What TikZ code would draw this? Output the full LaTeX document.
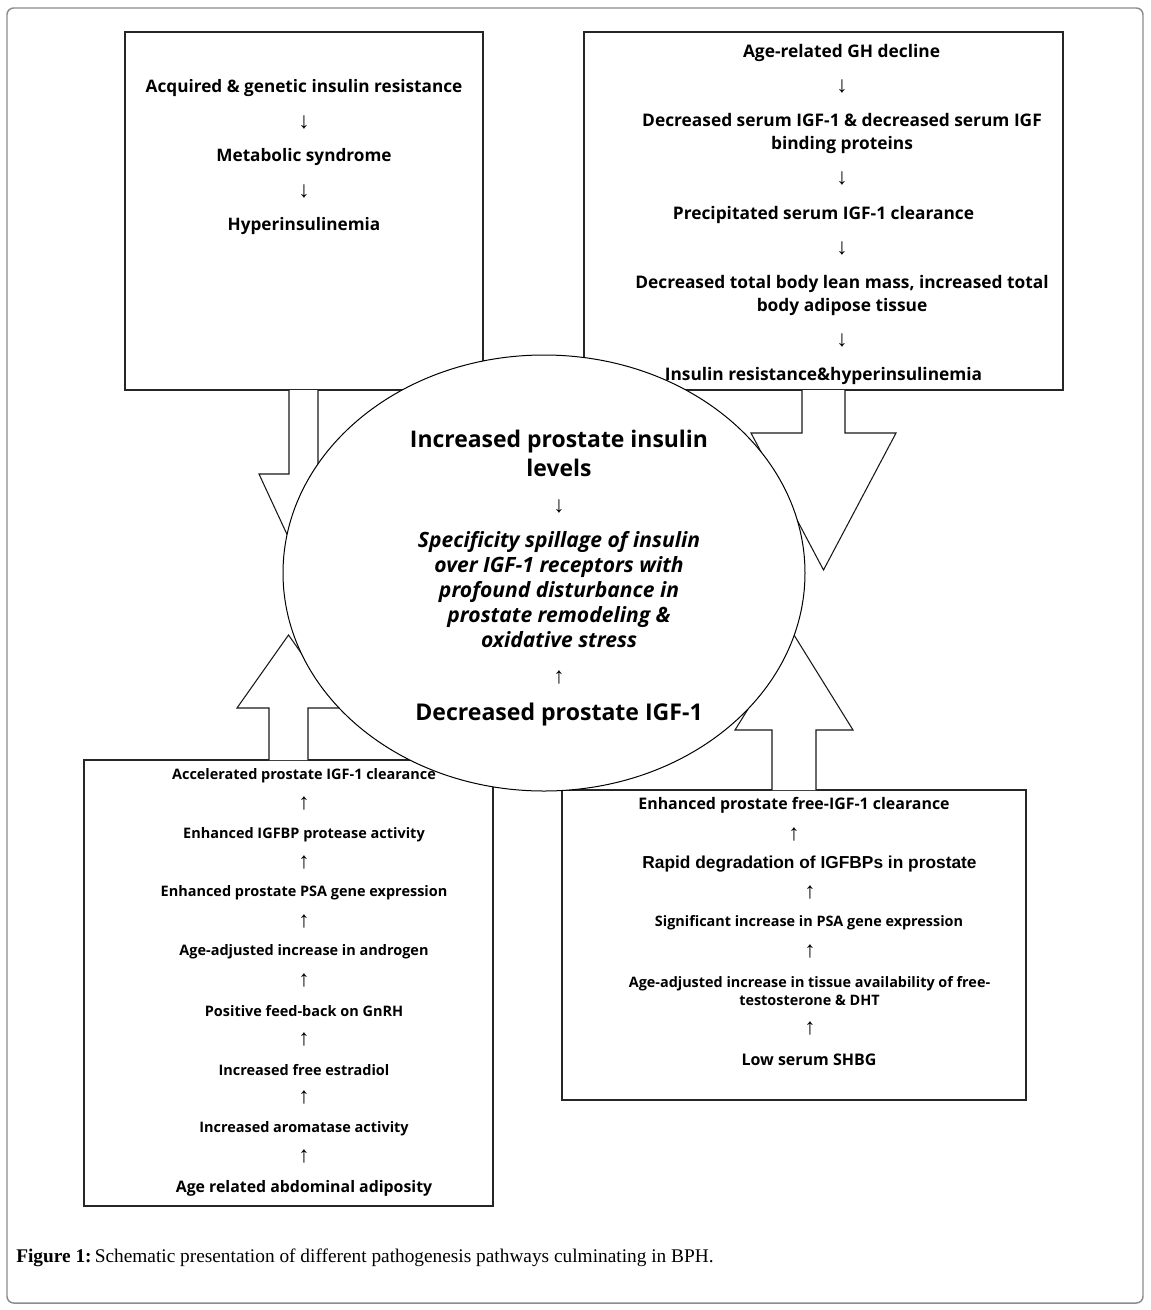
\documentclass[tikz,border=0pt]{standalone}
\usepackage{fontspec}
\setmainfont{Open Sans}
\newfontfamily\arialfont{Liberation Sans}
\newfontfamily\capfont{Liberation Serif}
\newcommand{\pxsize}[1]{\fontsize{#1}{#1}\selectfont}
\tikzset{
  frame/.style={draw=black!45, line width=1.1pt, rounded corners=5pt},
  boxstyle/.style={draw=black!85, fill=white, line width=0.9pt},
  blockarrow/.style={draw=black!90, fill=white, line width=0.8pt, line join=miter},
  ovalstyle/.style={draw=black, fill=white, line width=0.75pt},
  txt/.style={inner sep=0pt, align=center, font=\bfseries},
  btxt/.style={txt, yshift=-2pt},
  arr/.style={inner sep=0pt, font=\arialfont\pxsize{17}},
}
\begin{document}
\begin{tikzpicture}[x=0.75pt,y=-0.75pt]
\useasboundingbox (0,0) rectangle (1150,1310);
% outer frame
\draw[frame] (7,8) rectangle (1143,1303);

% boxes
\draw[boxstyle] (125,32) rectangle (483,390);
\draw[boxstyle] (584,32) rectangle (1063,390);
\draw[boxstyle] (84,760) rectangle (493,1206);
\draw[boxstyle] (562,790) rectangle (1026,1100);

% block arrows
\draw[blockarrow] (289,390) -- (289,474) -- (259,474) -- (303.5,570) -- (348,474) -- (318,474) -- (318,390);
\draw[blockarrow] (802,390) -- (802,433) -- (751,433) -- (823.5,570) -- (896,433) -- (845,433) -- (845,390);
\draw[blockarrow] (269,760) -- (269,708) -- (237,708) -- (288.5,635) -- (340,708) -- (308,708) -- (308,760);
\draw[blockarrow] (772,790) -- (772,730) -- (735,730) -- (794,635) -- (853,730) -- (816,730) -- (816,790);

% central oval
\draw[ovalstyle] (544,573) ellipse [x radius=195.75pt, y radius=163.5pt];

% top-left box text
\node[btxt, font=\bfseries\pxsize{12.9}] (tl1) at (304,85) {Acquired \& genetic insulin resistance};
\node[arr] (tla1) at (304,122) {↓};
\node[btxt, font=\bfseries\pxsize{12.9}] (tl2) at (304,154) {Metabolic syndrome};
\node[arr] (tla2) at (304,191) {↓};
\node[btxt, font=\bfseries\pxsize{12.9}] (tl3) at (304,223) {Hyperinsulinemia};

% top-right box text
\node[btxt, font=\bfseries\pxsize{13}] (tr1) at (841.5,50) {Age-related GH decline};
\node[arr] (tra1) at (842,86) {↓};
\node[btxt, font=\bfseries\fontsize{13}{17.3}\selectfont] (tr2) at (842,130.5) {Decreased serum IGF-1 \& decreased serum IGF\\binding proteins};
\node[arr] (tra2) at (842,178) {↓};
\node[btxt, font=\bfseries\pxsize{13}] (tr3) at (823.5,212) {Precipitated serum IGF-1 clearance};
\node[arr] (tra3) at (842,248) {↓};
\node[btxt, font=\bfseries\fontsize{13}{17.3}\selectfont] (tr4) at (842,292.5) {Decreased total body lean mass, increased total\\body adipose tissue};
\node[arr] (tra4) at (842,340) {↓};
\node[btxt, font=\bfseries\pxsize{13}] (tr5) at (823.5,373) {Insulin resistance\&hyperinsulinemia};

% oval text
\node[txt, font=\bfseries\fontsize{17.2}{21.8}\selectfont] (c1) at (559,453.5) {Increased prostate insulin\\levels};
\node[arr] (ca1) at (559,506) {↓};
\node[txt, font=\bfseries\itshape\fontsize{15.8}{18.9}\selectfont] (c2) at (559,589.5) {Specificity spillage of insulin\\over IGF-1 receptors with\\profound disturbance in\\prostate remodeling \&\\oxidative stress};
\node[arr] (ca2) at (559,677) {↑};
\node[btxt, font=\bfseries\pxsize{17.3}] (c3) at (559,712) {Decreased prostate IGF-1};

% bottom-left box text
\node[btxt, font=\bfseries\pxsize{10.85}] (bl1) at (304,773) {Accelerated prostate IGF-1 clearance};
\node[arr] (bla1) at (304,803) {↑};
\node[btxt, font=\bfseries\pxsize{10.85}] (bl2) at (304,832) {Enhanced IGFBP protease activity};
\node[arr] (bla2) at (304,862) {↑};
\node[btxt, font=\bfseries\pxsize{10.85}] (bl3) at (304,890) {Enhanced prostate PSA gene expression};
\node[arr] (bla3) at (304,921) {↑};
\node[btxt, font=\bfseries\pxsize{10.85}] (bl4) at (304,949) {Age-adjusted increase in androgen};
\node[arr] (bla4) at (304,980) {↑};
\node[btxt, font=\bfseries\pxsize{10.85}] (bl5) at (304,1008) {Positive feed-back on GnRH};
\node[arr] (bla5) at (304,1039) {↑};
\node[btxt, font=\bfseries\pxsize{10.85}] (bl6) at (304,1067) {Increased free estradiol};
\node[arr] (bla6) at (304,1097) {↑};
\node[btxt, font=\bfseries\pxsize{10.85}] (bl7) at (304,1126) {Increased aromatase activity};
\node[arr] (bla7) at (304,1156) {↑};
\node[btxt, font=\bfseries\pxsize{11.9}] (bl8) at (304,1186) {Age related abdominal adiposity};

% bottom-right box text
\node[btxt, font=\bfseries\pxsize{11.95}] (br1) at (794,803) {Enhanced prostate free-IGF-1 clearance};
\node[arr] (bra1) at (794,834) {↑};
\node[btxt, font=\arialfont\bfseries\pxsize{13}] (br2) at (809.5,861) {Rapid degradation of IGFBPs in prostate};
\node[arr] (bra2) at (810,892) {↑};
\node[btxt, font=\bfseries\pxsize{10.8}] (br3) at (809,920) {Significant increase in PSA gene expression};
\node[arr] (bra3) at (810,951) {↑};
\node[btxt, font=\bfseries\fontsize{10.8}{13.5}\selectfont] (br4) at (809.5,988) {Age-adjusted increase in tissue availability of free-\\testosterone \& DHT};
\node[arr] (bra4) at (810,1028) {↑};
\node[btxt, font=\bfseries\pxsize{12}] (br5) at (809,1057) {Low serum SHBG};

% caption
\node[inner sep=0pt, anchor=west, font=\capfont\pxsize{14.5}] (cap) at (16,1258) {\textbf{Figure 1:}\,Schematic presentation of different pathogenesis pathways culminating in BPH.};
\end{tikzpicture}
\end{document}
